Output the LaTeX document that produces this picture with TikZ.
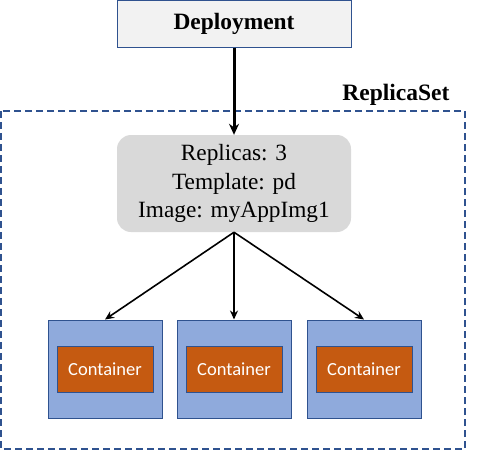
\documentclass[tikz,border=0pt]{standalone}
\usepackage{fontspec}
\setmainfont{Liberation Serif}
\newfontfamily\calib{Carlito}
\usetikzlibrary{arrows.meta}
\definecolor{bdr}{HTML}{2F528F}
\definecolor{podfill}{HTML}{8FAADC}
\definecolor{ctrfill}{HTML}{C55A11}
\definecolor{rsfill}{HTML}{D9D9D9}
\definecolor{depfill}{HTML}{F2F2F2}
\begin{document}
\begin{tikzpicture}[x=1pt,y=-1pt,
  podbox/.style={draw=bdr, fill=podfill, line width=1pt},
  ctrbox/.style={draw=bdr, fill=ctrfill, line width=1pt, text=white, font=\calib\fontsize{18.5}{22}\selectfont},
  conn/.style={-{Stealth[length=9pt,width=8pt]}, line width=1.6pt}
]
\useasboundingbox (0,0) rectangle (489,451);
% dashed ReplicaSet frame
\draw[bdr, dashed, dash pattern=on 7pt off 4pt, line width=1.8pt] (1,111) rectangle (465,449);
\node[anchor=base east, font=\bfseries\fontsize{23.5}{28}\selectfont] (rslabel) at (453,100) {ReplicaSet};
% Deployment
\node[draw=bdr, fill=depfill, line width=1pt, minimum width=234pt, minimum height=47pt, inner sep=0pt,
  font=\bfseries\fontsize{23.4}{28}\selectfont] (dep) at (234,23.5) {Deployment};
% ReplicaSet spec box
\node[fill=rsfill, rounded corners=14pt, minimum width=234pt, minimum height=97pt, inner sep=0pt,
  align=center, font=\fontsize{23.3}{28.5}\selectfont] (rs) at (234,183.5) {Replicas: 3\\Template: pd\\Image: myAppImg1};
% pods
\foreach \i/\cx in {1/105,2/234,3/364}{
  \node[podbox, minimum width=114pt, minimum height=98pt, inner sep=0pt] (pod\i) at (\cx,369) {};
  \node[ctrbox, minimum width=96pt, minimum height=46pt, inner sep=0pt] (ctr\i) at (\cx,369) {Container};
}
\draw[-{Stealth[length=11pt,width=10pt]}, line width=3pt] (dep.south) -- (rs.north);
\draw[conn] (rs.south) -- (pod1.north);
\draw[conn] (rs.south) -- (pod2.north);
\draw[conn] (rs.south) -- (pod3.north);
\end{tikzpicture}
\end{document}
